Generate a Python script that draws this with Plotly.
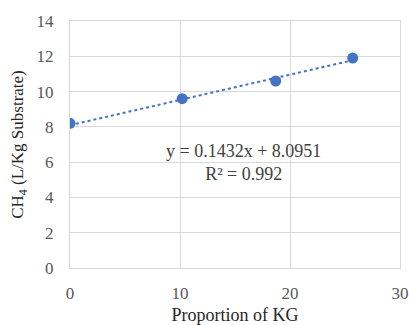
import plotly.graph_objects as go

kg_proportion = [0, 10.2, 18.7, 25.7]
ch4_yield = [8.2, 9.6, 10.6, 11.9]
slope = 0.1432
intercept = 8.0951
r_squared = 0.992
x_ticks = [0, 10, 20, 30]
y_ticks = [0, 2, 4, 6, 8, 10, 12, 14]

trend_x = [min(kg_proportion), max(kg_proportion)]
trend_y = [slope * v + intercept for v in trend_x]

blue = "#4472C4"
grid = "#d9d9d9"
font_family = "Liberation Serif, Times New Roman, serif"

fig = go.Figure()
fig.add_trace(go.Scatter(x=trend_x, y=trend_y, mode="lines",
                         line=dict(color=blue, width=2, dash="dot"),
                         hoverinfo="skip", showlegend=False))
fig.add_trace(go.Scatter(x=kg_proportion, y=ch4_yield, mode="markers",
                         marker=dict(color=blue, size=11),
                         showlegend=False))

fig.add_annotation(x=15.8, y=6.0, xref="x", yref="y",
                   text=f"y = {slope}x + {intercept}<br>R² = {r_squared}",
                   showarrow=False, align="center",
                   font=dict(family=font_family, size=18, color="#404040"))

fig.update_layout(
    width=409, height=325,
    margin=dict(l=70, r=9, t=21, b=57),
    paper_bgcolor="white", plot_bgcolor="white",
    font=dict(family=font_family, size=17, color="#595959"),
    xaxis=dict(range=[0, 30], tickvals=x_ticks, showgrid=True, gridcolor=grid,
               gridwidth=1, zeroline=False, showline=True, linecolor=grid,
               mirror=True, ticks="", ticklabelstandoff=10, automargin=False,
               title=dict(text="Proportion of KG", standoff=6,
                          font=dict(family=font_family, size=18, color="#262626"))),
    yaxis=dict(range=[0, 14], tickvals=y_ticks, showgrid=True, gridcolor=grid,
               gridwidth=1, zeroline=False, showline=True, linecolor=grid,
               mirror=True, ticks="", ticklabelstandoff=12, automargin=False,
               title=dict(text="CH<sub>4</sub> (L/Kg Substrate)", standoff=8,
                          font=dict(family=font_family, size=17, color="#262626"))),
)

fig.write_html("out.html")
